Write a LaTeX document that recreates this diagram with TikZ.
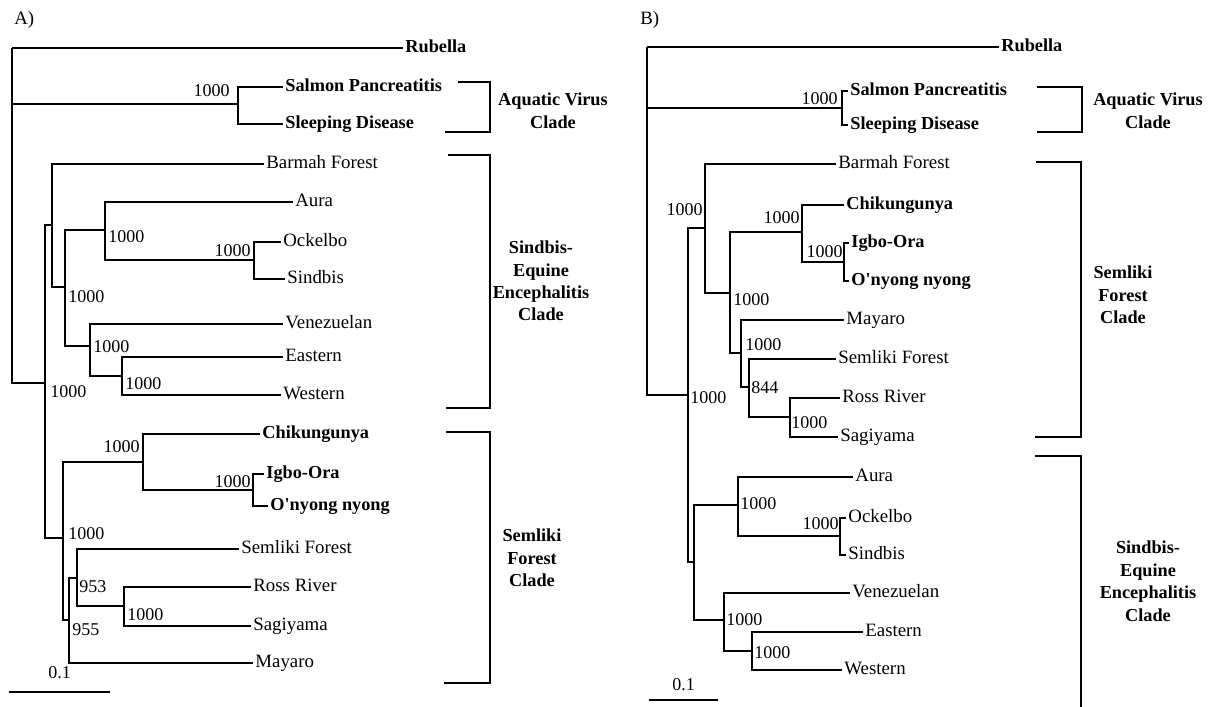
\documentclass[tikz,border=0pt]{standalone}
\usepackage{fontspec}
\setmainfont{Liberation Serif}
\usepackage{tikz}
\usetikzlibrary{positioning,calc}
\tikzstyle{leaf} = [anchor=west,inner xsep=1.5pt,inner ysep=0pt,font=\fontsize{13.4}{15}\selectfont,text height=9pt,text depth=2.5pt]
\tikzstyle{bleaf} = [leaf,font=\fontsize{13}{15}\selectfont\bfseries]
\tikzstyle{boot} = [inner sep=0pt,font=\fontsize{12.8}{15}\selectfont]
\tikzstyle{branch} = [line width=1.15pt]
\tikzstyle{clade} = [line width=1.4pt]
\tikzstyle{cladename} = [align=center,font=\fontsize{13}{16}\selectfont\bfseries]

\begin{document}
\begin{tikzpicture}[x=0.025cm,y=-0.025cm]
	\useasboundingbox (0,0) rectangle (1216,707);
	\node[leaf] (titA) at (12,20) {A)};
	\node[leaf] (titB) at (638,20) {B)};
	\coordinate (rootA) at (12,48);
	\coordinate (aqA) at (238,104);
	\coordinate (n1A) at (45,383);
	\coordinate (seA) at (52,225);
	\coordinate (se2A) at (65,287);
	\coordinate (auA) at (105,230);
	\coordinate (osA) at (254,260);
	\coordinate (veA) at (90,346);
	\coordinate (ewA) at (122,376);
	\coordinate (sfA) at (63,538);
	\coordinate (chA) at (143,462);
	\coordinate (ioA) at (253,490);
	\coordinate (sf2A) at (69,620);
	\coordinate (sf3A) at (77,578);
	\coordinate (rsA) at (124,606);
	\node[bleaf] (rubA) at (403,48) {Rubella};
	\node[bleaf] (salA) at (283,87) {Salmon Pancreatitis};
	\node[bleaf] (sleA) at (283,124) {Sleeping Disease};
	\node[leaf] (barA) at (264,164) {Barmah Forest};
	\node[leaf] (aurA) at (293,202) {Aura};
	\node[leaf] (ockA) at (281,242) {Ockelbo};
	\node[leaf] (sinA) at (285,279) {Sindbis};
	\node[leaf] (venA) at (283,324) {Venezuelan};
	\node[leaf] (easA) at (283,357) {Eastern};
	\node[leaf] (wesA) at (281,395) {Western};
	\node[bleaf] (chiA) at (260,434) {Chikungunya};
	\node[bleaf] (igbA) at (264,474) {Igbo-Ora};
	\node[bleaf] (onyA) at (268,506) {O\textquotesingle nyong nyong};
	\node[leaf] (semA) at (239,549) {Semliki Forest};
	\node[leaf] (rosA) at (251,587) {Ross River};
	\node[leaf] (sagA) at (251,626) {Sagiyama};
	\node[leaf] (mayA) at (253,663) {Mayaro};
	\draw[branch] (rootA) |- (rubA.west) (rootA) |- (aqA) (rootA) |- (n1A);
	\draw[branch] (aqA) |- (salA.west) (aqA) |- (sleA.west);
	\draw[branch] (n1A) |- (seA) (n1A) |- (sfA);
	\draw[branch] (seA) |- (barA.west) (seA) |- (se2A);
	\draw[branch] (se2A) |- (auA) (se2A) |- (veA);
	\draw[branch] (auA) |- (aurA.west) (auA) |- (osA);
	\draw[branch] (osA) |- (ockA.west) (osA) |- (sinA.west);
	\draw[branch] (veA) |- (venA.west) (veA) |- (ewA);
	\draw[branch] (ewA) |- (easA.west) (ewA) |- (wesA.west);
	\draw[branch] (sfA) |- (chA) (sfA) |- (sf2A);
	\draw[branch] (chA) |- (chiA.west) (chA) |- (ioA);
	\draw[branch] (ioA) |- (igbA.west) (ioA) |- (onyA.west);
	\draw[branch] (sf2A) |- (sf3A) (sf2A) |- (mayA.west);
	\draw[branch] (sf3A) |- (semA.west) (sf3A) |- (rsA);
	\draw[branch] (rsA) |- (rosA.west) (rsA) |- (sagA.west);
	\node[boot,anchor=east] (bAq) at (230,91) {1000};
	\node[boot,anchor=west] (bN1) at (50,392) {1000};
	\node[boot,anchor=west] (bSe2) at (68,297) {1000};
	\node[boot,anchor=west] (bAu) at (108,237) {1000};
	\node[boot,anchor=east] (bOs) at (251,251) {1000};
	\node[boot,anchor=west] (bVe) at (93,347) {1000};
	\node[boot,anchor=west] (bEw) at (125,384) {1000};
	\node[boot,anchor=east] (bCh) at (140,447) {1000};
	\node[boot,anchor=east] (bIo) at (251,482) {1000};
	\node[boot,anchor=west] (bSf) at (68,534) {1000};
	\node[boot,anchor=west] (bSf3) at (79,587) {953};
	\node[boot,anchor=west] (bSf2) at (72,630) {955};
	\node[boot,anchor=west] (bRs) at (127,615) {1000};
	\draw[clade] (9,692) -- (110,692) node[boot,midway,above=9pt] (scA) {0.1};
	\draw[clade] (458,82) -- (490,82) -- (490,132) -- (445,132);
	\draw[clade] (448,155) -- (490,155) -- (490,408) -- (446,408);
	\draw[clade] (446,432) -- (490,432) -- (490,683) -- (444,683);
	\node[cladename] (aquA) at (553,111) {Aquatic Virus\\Clade};
	\node[cladename] (seeA) at (541,281) {Sindbis-\\Equine\\Encephalitis\\Clade};
	\node[cladename] (sfcA) at (532,558) {Semliki\\Forest\\Clade};
	\coordinate (rootB) at (647,47);
	\coordinate (aqB) at (842,108);
	\coordinate (n1B) at (688,395);
	\coordinate (sfB) at (705,228);
	\coordinate (sf2B) at (730,293);
	\coordinate (chB) at (802,232);
	\coordinate (ioB) at (844,262);
	\coordinate (sf3B) at (741,353);
	\coordinate (sf4B) at (749,387);
	\coordinate (rsB) at (790,417);
	\coordinate (seB) at (694,562);
	\coordinate (auB) at (738,505);
	\coordinate (osB) at (840,536);
	\coordinate (veB) at (724,620);
	\coordinate (ewB) at (752,651);
	\node[bleaf] (rubB) at (999,47) {Rubella};
	\node[bleaf] (salB) at (848,91) {Salmon Pancreatitis};
	\node[bleaf] (sleB) at (848,125) {Sleeping Disease};
	\node[leaf] (barB) at (836,164) {Barmah Forest};
	\node[bleaf] (chiB) at (844,205) {Chikungunya};
	\node[bleaf] (igbB) at (849,243) {Igbo-Ora};
	\node[bleaf] (onyB) at (849,281) {O\textquotesingle nyong nyong};
	\node[leaf] (mayB) at (844,320) {Mayaro};
	\node[leaf] (semB) at (836,359) {Semliki Forest};
	\node[leaf] (rosB) at (840,398) {Ross River};
	\node[leaf] (sagB) at (838,437) {Sagiyama};
	\node[leaf] (aurB) at (853,477) {Aura};
	\node[leaf] (ockB) at (846,518) {Ockelbo};
	\node[leaf] (sinB) at (846,555) {Sindbis};
	\node[leaf] (venB) at (850,593) {Venezuelan};
	\node[leaf] (easB) at (863,632) {Eastern};
	\node[leaf] (wesB) at (842,670) {Western};
	\draw[branch] (rootB) |- (rubB.west) (rootB) |- (aqB) (rootB) |- (n1B);
	\draw[branch] (aqB) |- (salB.west) (aqB) |- (sleB.west);
	\draw[branch] (n1B) |- (sfB) (n1B) |- (seB);
	\draw[branch] (sfB) |- (barB.west) (sfB) |- (sf2B);
	\draw[branch] (sf2B) |- (chB) (sf2B) |- (sf3B);
	\draw[branch] (chB) |- (chiB.west) (chB) |- (ioB);
	\draw[branch] (ioB) |- (igbB.west) (ioB) |- (onyB.west);
	\draw[branch] (sf3B) |- (mayB.west) (sf3B) |- (sf4B);
	\draw[branch] (sf4B) |- (semB.west) (sf4B) |- (rsB);
	\draw[branch] (rsB) |- (rosB.west) (rsB) |- (sagB.west);
	\draw[branch] (seB) |- (auB) (seB) |- (veB);
	\draw[branch] (auB) |- (aurB.west) (auB) |- (osB);
	\draw[branch] (osB) |- (ockB.west) (osB) |- (sinB.west);
	\draw[branch] (veB) |- (venB.west) (veB) |- (ewB);
	\draw[branch] (ewB) |- (easB.west) (ewB) |- (wesB.west);
	\node[boot,anchor=east] (cAq) at (838,99) {1000};
	\node[boot,anchor=east] (cSf) at (703,210) {1000};
	\node[boot,anchor=west] (cN1) at (690,398) {1000};
	\node[boot,anchor=east] (cCh) at (800,218) {1000};
	\node[boot,anchor=east] (cIo) at (843,252) {1000};
	\node[boot,anchor=west] (cSf2) at (733,300) {1000};
	\node[boot,anchor=west] (cSf3) at (745,345) {1000};
	\node[boot,anchor=west] (cSf4) at (751,388) {844};
	\node[boot,anchor=west] (cRs) at (791,423) {1000};
	\node[boot,anchor=west] (cAu) at (740,504) {1000};
	\node[boot,anchor=east] (cOs) at (839,524) {1000};
	\node[boot,anchor=west] (cVe) at (726,620) {1000};
	\node[boot,anchor=west] (cEw) at (754,653) {1000};
	\draw[clade] (649,700) -- (718,700) node[boot,midway,above=6pt] (scB) {0.1};
	\draw[clade] (1037,87) -- (1082,87) -- (1082,132) -- (1037,132);
	\draw[clade] (1036,162) -- (1081,162) -- (1081,437) -- (1035,437);
	\draw[clade] (1035,456) -- (1081,456) -- (1081,707);
	\node[cladename] (aquB) at (1148,111) {Aquatic Virus\\Clade};
	\node[cladename] (sfcB) at (1123,295) {Semliki\\Forest\\Clade};
	\node[cladename] (seeB) at (1148,581) {Sindbis-\\Equine\\Encephalitis\\Clade};
\end{tikzpicture}
\end{document}
